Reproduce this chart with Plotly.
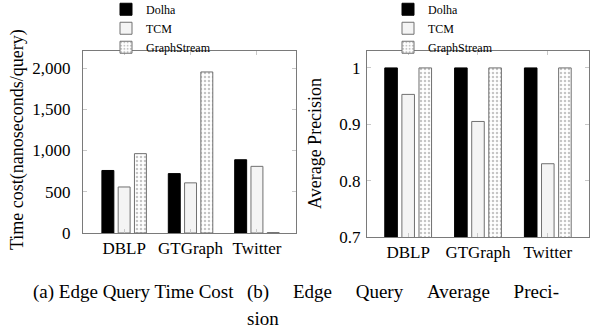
import plotly.graph_objects as go

categories = ["DBLP", "GTGraph", "Twitter"]
series_names = ["Dolha", "TCM", "GraphStream"]
time_cost = {
    "Dolha": [758, 720, 888],
    "TCM": [558, 608, 808],
    "GraphStream": [962, 1952, 5],
}
precision = {
    "Dolha": [1.0, 1.0, 1.0],
    "TCM": [0.953, 0.905, 0.83],
    "GraphStream": [1.0, 1.0, 1.0],
}
time_ticks = [0, 500, 1000, 1500, 2000]
time_ticktext = ["0", "500", "1,000", "1,500", "2,000"]
prec_ticks = [0.7, 0.8, 0.9, 1.0]
prec_ticktext = ["0.7", "0.8", "0.9", "1"]

styles = {
    "Dolha": dict(color="black", line=dict(color="black", width=1)),
    "TCM": dict(color="#f4f4f4", line=dict(color="#707070", width=1)),
    "GraphStream": dict(color="white", line=dict(color="#707070", width=1),
                        pattern=dict(shape=".", fgcolor="#8a8a8a", bgcolor="white",
                                     size=4, solidity=0.3)),
}
offsets = {"Dolha": -0.335, "TCM": -0.09, "GraphStream": 0.155}
width = 0.18

FONT = "Liberation Serif, Times New Roman, DejaVu Serif, serif"
fig = go.Figure()
xi = list(range(len(categories)))
for name in series_names:
    fig.add_trace(go.Bar(x=xi, y=time_cost[name], name=name, marker=styles[name],
                         offset=offsets[name], width=width, xaxis="x", yaxis="y",
                         legend="legend", showlegend=True))
for name in series_names:
    fig.add_trace(go.Bar(x=xi, y=precision[name], name=name, marker=styles[name],
                         offset=offsets[name], width=width, xaxis="x2", yaxis="y2",
                         legend="legend2", showlegend=True))

axis_common = dict(showline=True, mirror="ticks", linecolor="#7a7a7a", linewidth=1,
                   ticks="inside", tickcolor="#c8c8c8", ticklen=4, showgrid=False,
                   zeroline=False, automargin=False,
                   tickfont=dict(family=FONT, size=17, color="black"))

legend_common = dict(yanchor="top", y=1.016, xanchor="left", xref="paper", yref="paper",
                     font=dict(family=FONT, size=12, color="black"),
                     bgcolor="rgba(0,0,0,0)", itemwidth=30, tracegroupgap=0)

fig.update_layout(
    width=597, height=328, margin=dict(l=0, r=0, t=0, b=0, autoexpand=False),
    paper_bgcolor="white", plot_bgcolor="white",
    barmode="overlay",
    font=dict(family=FONT, color="black"),
    xaxis=dict(domain=[0.139, 0.496], range=[-0.62, 2.59], tickvals=xi, ticktext=categories,
               anchor="y", **axis_common),
    yaxis=dict(domain=[0.2896, 0.8445], range=[0, 2206], tickvals=time_ticks,
               ticktext=time_ticktext, anchor="x", ticklabelstandoff=8, **axis_common),
    xaxis2=dict(domain=[0.6147, 0.9866], range=[-0.59, 2.59], tickvals=xi, ticktext=categories,
                anchor="y2", **axis_common),
    yaxis2=dict(domain=[0.2774, 0.8445], range=[0.7, 1.03], tickvals=prec_ticks,
                ticktext=prec_ticktext, anchor="x2", ticklabelstandoff=2, **axis_common),
    legend=dict(x=106 / 597, **legend_common),
    legend2=dict(x=388 / 597, **legend_common),
    annotations=[
        dict(text="Time cost(nanoseconds/query)", x=18 / 597, y=1 - 140 / 328,
             xanchor="center", yanchor="middle",
             xref="paper", yref="paper", textangle=-90, showarrow=False,
             font=dict(family=FONT, size=18)),
        dict(text="Average Precision", x=315 / 597, y=1 - 144 / 328,
             xanchor="center", yanchor="middle",
             xref="paper", yref="paper", textangle=-90, showarrow=False,
             font=dict(family=FONT, size=18)),
        dict(text="(a) Edge Query Time Cost", x=133 / 597, y=1 - 292 / 328,
             xanchor="center", yanchor="middle",
             xref="paper", yref="paper", showarrow=False, font=dict(family=FONT, size=19)),
        dict(text="(b)" + "&nbsp;" * 5 + "Edge" + "&nbsp;" * 5 + "Query" + "&nbsp;" * 5
             + "Average" + "&nbsp;" * 5 + "Preci-",
             x=245 / 597, y=1 - 292 / 328, xanchor="left", yanchor="middle",
             xref="paper", yref="paper", showarrow=False, font=dict(family=FONT, size=19)),
        dict(text="sion", x=245 / 597, y=1 - 318 / 328, xanchor="left", yanchor="middle",
             xref="paper", yref="paper", showarrow=False, font=dict(family=FONT, size=19)),
    ],
)

fig.write_html("out.html")
